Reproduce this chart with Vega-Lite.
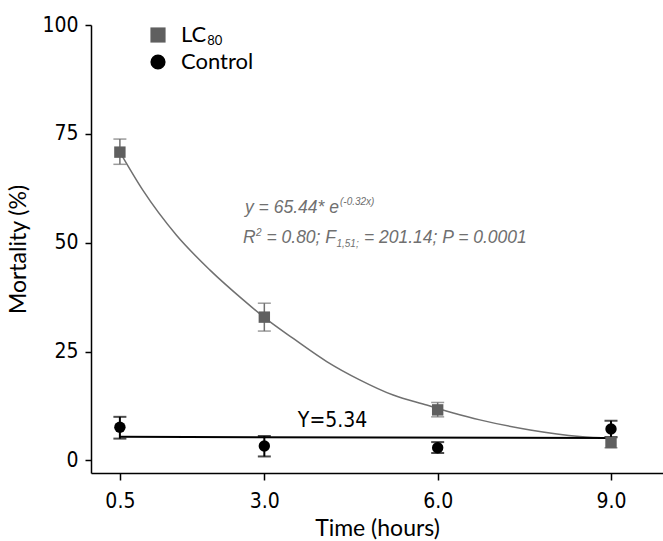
{
  "$schema": "https://vega.github.io/schema/vega-lite/v6.json",
  "width": 572,
  "height": 448,
  "autosize": {"type": "none"},
  "padding": {"left": 91, "top": 25, "right": 0, "bottom": 68},
  "background": "white",
  "config": {
    "view": {"stroke": null},
    "axis": {
      "grid": false,
      "domainColor": "#000000",
      "domainWidth": 1.5,
      "tickColor": "#000000",
      "tickWidth": 1.5,
      "labelColor": "#000000",
      "labelFont": "'DejaVu Sans Condensed', 'Liberation Sans', sans-serif",
      "labelFontSize": 21,
      "titleFont": "Lato",
      "titleFontSize": 23,
      "titleFontWeight": "normal",
      "titleColor": "#000000"
    }
  },
  "datasets": {
    "points": [
      {"time": 0.5, "series": "LC80", "mean": 70.8, "lo": 68.0, "hi": 73.8},
      {"time": 3.0, "series": "LC80", "mean": 32.9, "lo": 29.7, "hi": 36.1},
      {"time": 6.0, "series": "LC80", "mean": 11.6, "lo": 10.0, "hi": 13.3},
      {"time": 9.0, "series": "LC80", "mean": 4.1, "lo": 2.9, "hi": 5.4},
      {"time": 0.5, "series": "Control", "mean": 7.6, "lo": 5.0, "hi": 10.0},
      {"time": 3.0, "series": "Control", "mean": 3.3, "lo": 0.9, "hi": 5.6},
      {"time": 6.0, "series": "Control", "mean": 2.9, "lo": 1.7, "hi": 4.2},
      {"time": 9.0, "series": "Control", "mean": 7.2, "lo": 5.3, "hi": 9.1}
    ],
    "curve": [
      {"time": 0.5, "value": 70.8},
      {"time": 0.9, "value": 62.0},
      {"time": 1.48, "value": 51.7},
      {"time": 2.06, "value": 43.7},
      {"time": 2.64, "value": 36.8},
      {"time": 3.02, "value": 32.6},
      {"time": 3.5, "value": 28.0},
      {"time": 4.08, "value": 22.7},
      {"time": 4.65, "value": 18.5},
      {"time": 5.23, "value": 15.0},
      {"time": 5.81, "value": 12.7},
      {"time": 6.27, "value": 10.9},
      {"time": 6.73, "value": 9.3},
      {"time": 7.6, "value": 7.0},
      {"time": 8.46, "value": 5.5},
      {"time": 9.0, "value": 5.1}
    ],
    "hline": [
      {"time": 0.5, "value": 5.4},
      {"time": 9.0, "value": 5.15}
    ],
    "one": [{}]
  },
  "layer": [
    {
      "data": {"name": "curve"},
      "mark": {"type": "line", "color": "#707070", "strokeWidth": 1.5, "interpolate": "monotone"},
      "encoding": {
        "x": {"field": "time", "type": "quantitative", "scale": {"domain": [0, 9.9], "nice": false, "zero": false},
              "axis": {"values": [0.5, 3, 6, 9], "format": ".1f", "tickSize": 7, "labelPadding": 10, "titlePadding": 6}, "title": "Time (hours)"},
        "y": {"field": "value", "type": "quantitative", "scale": {"domain": [-2.9, 100], "nice": false, "zero": false},
              "axis": {"values": [0, 25, 50, 75, 100], "tickSize": 6, "labelPadding": 7, "titlePadding": 11}, "title": "Mortality (%)"}
      }
    },
    {
      "data": {"name": "hline"},
      "mark": {"type": "line", "color": "#000000", "strokeWidth": 2},
      "encoding": {
        "x": {"field": "time", "type": "quantitative", "title": "Time (hours)"},
        "y": {"field": "value", "type": "quantitative", "title": "Mortality (%)"}
      }
    },
    {
      "data": {"name": "points"},
      "transform": [{"filter": "datum.series == 'LC80'"}],
      "mark": {"type": "errorbar", "rule": {"color": "#707070", "strokeWidth": 1.5}, "ticks": {"color": "#707070", "size": 13, "thickness": 1.5}},
      "encoding": {
        "x": {"field": "time", "type": "quantitative", "title": "Time (hours)"},
        "y": {"field": "lo", "type": "quantitative", "title": "Mortality (%)"},
        "y2": {"field": "hi"}
      }
    },
    {
      "data": {"name": "points"},
      "transform": [{"filter": "datum.series == 'Control'"}],
      "mark": {"type": "errorbar", "rule": {"color": "#000000", "strokeWidth": 2}, "ticks": {"color": "#000000", "size": 13, "thickness": 2}},
      "encoding": {
        "x": {"field": "time", "type": "quantitative", "title": "Time (hours)"},
        "y": {"field": "lo", "type": "quantitative", "title": "Mortality (%)"},
        "y2": {"field": "hi"}
      }
    },
    {
      "data": {"name": "points"},
      "mark": {"type": "point", "filled": true, "opacity": 1},
      "encoding": {
        "x": {"field": "time", "type": "quantitative", "title": "Time (hours)"},
        "y": {"field": "mean", "type": "quantitative", "title": "Mortality (%)"},
        "color": {"field": "series", "type": "nominal", "scale": {"domain": ["LC80", "Control"], "range": ["#5f5f5f", "#000000"]},
                  "legend": {"orient": "none", "legendX": 56, "legendY": -1, "title": null, "symbolSize": 230, "symbolStrokeWidth": 0,
                             "labelFont": "Lato", "labelFontSize": 22, "labelColor": "#000000", "labelOffset": 12, "rowPadding": 5,
                             "labelExpr": "datum.label == 'LC80' ? 'LC' : datum.label"}},
        "shape": {"field": "series", "type": "nominal", "scale": {"domain": ["LC80", "Control"], "range": ["square", "circle"]}},
        "size": {"value": 130}
      }
    },
    {
      "data": {"name": "one"},
      "mark": {"type": "text", "text": "80", "font": "Lato", "fontSize": 13, "color": "#000000", "align": "left", "baseline": "alphabetic"},
      "encoding": {"x": {"datum": 2.01, "type": "quantitative"}, "y": {"datum": 95.5, "type": "quantitative"}}
    },
    {
      "data": {"name": "one"},
      "mark": {"type": "text", "text": "y = 65.44* e", "font": "Liberation Sans", "fontStyle": "italic", "fontSize": 17.5, "color": "#707070", "align": "left", "baseline": "alphabetic"},
      "encoding": {"x": {"datum": 2.665, "type": "quantitative"}, "y": {"datum": 56.75, "type": "quantitative"}}
    },
    {
      "data": {"name": "one"},
      "mark": {"type": "text", "text": "(-0.32x)", "font": "Liberation Sans", "fontStyle": "italic", "fontSize": 10, "color": "#707070", "align": "left", "baseline": "alphabetic", "dx": 95, "dy": -8},
      "encoding": {"x": {"datum": 2.665, "type": "quantitative"}, "y": {"datum": 56.75, "type": "quantitative"}}
    },
    {
      "data": {"name": "one"},
      "mark": {"type": "text", "text": "R", "font": "Liberation Sans", "fontStyle": "italic", "fontSize": 17.5, "color": "#707070", "align": "left", "baseline": "alphabetic"},
      "encoding": {"x": {"datum": 2.63, "type": "quantitative"}, "y": {"datum": 49.86, "type": "quantitative"}}
    },
    {
      "data": {"name": "one"},
      "mark": {"type": "text", "text": "2", "font": "Liberation Sans", "fontStyle": "italic", "fontSize": 10, "color": "#707070", "align": "left", "baseline": "alphabetic", "dx": 13, "dy": -7},
      "encoding": {"x": {"datum": 2.63, "type": "quantitative"}, "y": {"datum": 49.86, "type": "quantitative"}}
    },
    {
      "data": {"name": "one"},
      "mark": {"type": "text", "text": "= 0.80; F", "font": "Liberation Sans", "fontStyle": "italic", "fontSize": 17.5, "color": "#707070", "align": "left", "baseline": "alphabetic", "dx": 23.5},
      "encoding": {"x": {"datum": 2.63, "type": "quantitative"}, "y": {"datum": 49.86, "type": "quantitative"}}
    },
    {
      "data": {"name": "one"},
      "mark": {"type": "text", "text": "1,51;", "font": "Liberation Sans", "fontStyle": "italic", "fontSize": 10, "color": "#707070", "align": "left", "baseline": "alphabetic", "dx": 93.5, "dy": 4},
      "encoding": {"x": {"datum": 2.63, "type": "quantitative"}, "y": {"datum": 49.86, "type": "quantitative"}}
    },
    {
      "data": {"name": "one"},
      "mark": {"type": "text", "text": "= 201.14; P = 0.0001", "font": "Liberation Sans", "fontStyle": "italic", "fontSize": 17.5, "color": "#707070", "align": "left", "baseline": "alphabetic", "dx": 121},
      "encoding": {"x": {"datum": 2.63, "type": "quantitative"}, "y": {"datum": 49.86, "type": "quantitative"}}
    },
    {
      "data": {"name": "one"},
      "mark": {"type": "text", "text": "Y=5.34", "font": "'DejaVu Sans Condensed', 'Liberation Sans', sans-serif", "fontSize": 21, "color": "#000000", "align": "left", "baseline": "alphabetic"},
      "encoding": {"x": {"datum": 3.58, "type": "quantitative"}, "y": {"datum": 7.76, "type": "quantitative"}}
    }
  ]
}
